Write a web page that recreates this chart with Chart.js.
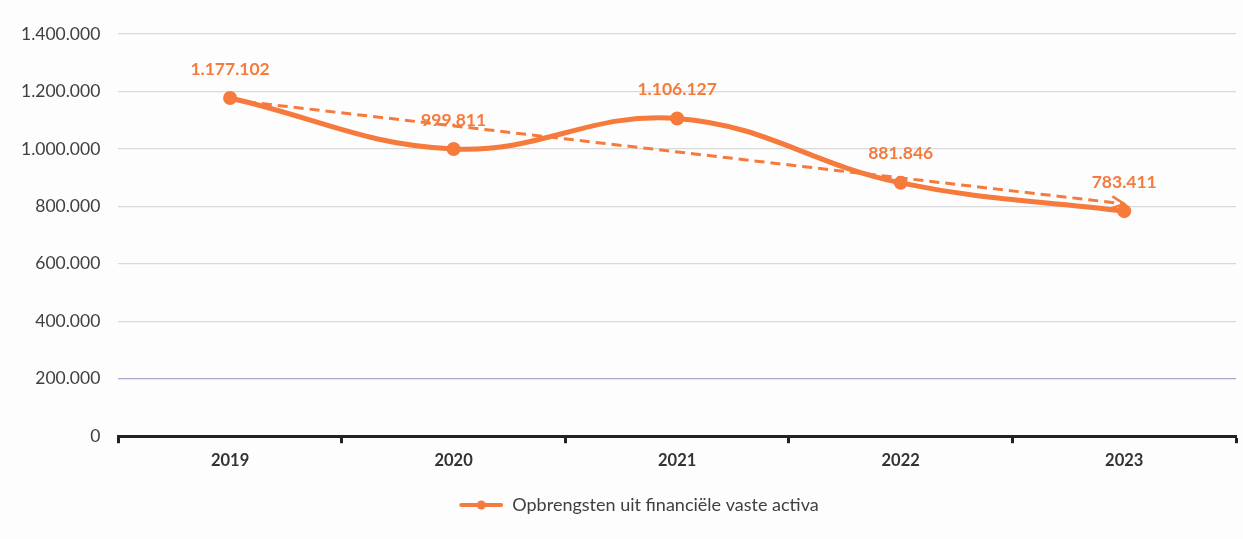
<!DOCTYPE html>
<html>
<head>
<meta charset="utf-8">
<script src="https://cdn.jsdelivr.net/npm/chart.js@4/dist/chart.umd.min.js"></script>
<style>
  html, body { margin: 0; padding: 0; background: #fdfdfd; }
  #wrap { width: 1243px; height: 539px; }
</style>
</head>
<body>
<div id="wrap"><canvas id="myChart"></canvas></div>
<script>
const years = ['2019', '2020', '2021', '2022', '2023'];
const opbrengsten = [1177102, 999811, 1106127, 881846, 783411];
// dashed trend line, start and end
const trend = [1170700, null, null, null, 808600];
const yTicks = [0, 200000, 400000, 600000, 800000, 1000000, 1200000, 1400000];

const orange = '#f57a3c';
const fontName = 'Lato, "Liberation Sans", sans-serif';

function nlNumber(v) {
    return String(Math.round(v)).replace(/\B(?=(\d{3})+(?!\d))/g, '.');
}

// legend marker: line with a dot in the middle (left part left empty so the item sits a bit right)
const marker = document.createElement('canvas');
marker.width = 80;
marker.height = 12;
(function () {
    const c = marker.getContext('2d');
    c.strokeStyle = orange;
    c.lineWidth = 4;
    c.lineCap = 'round';
    c.beginPath();
    c.moveTo(38, 6);
    c.lineTo(78, 6);
    c.stroke();
    c.fillStyle = orange;
    c.beginPath();
    c.arc(58, 6, 4.5, 0, Math.PI * 2);
    c.fill();
})();

const background = {
    id: 'background',
    beforeDraw(chart) {
        const c = chart.ctx;
        c.save();
        c.fillStyle = '#fdfdfd';
        c.fillRect(0, 0, chart.width, chart.height);
        c.restore();
    }
};

const valueLabels = {
    id: 'valueLabels',
    afterDatasetsDraw(chart) {
        const c = chart.ctx;
        const meta = chart.getDatasetMeta(0);
        c.save();
        c.font = 'bold 17.5px ' + fontName;
        c.fillStyle = orange;
        c.textAlign = 'center';
        c.textBaseline = 'middle';
        meta.data.forEach((pt, i) => {
            c.fillText(nlNumber(opbrengsten[i]), pt.x, pt.y - 29);
        });
        c.restore();
    }
};

const trendArrow = {
    id: 'trendArrow',
    afterDatasetsDraw(chart) {
        const meta = chart.getDatasetMeta(1);
        const pts = meta.data.filter((p, i) => trend[i] !== null);
        if (pts.length < 2) return;
        const a = pts[pts.length - 2], b = pts[pts.length - 1];
        const ang = Math.atan2(b.y - a.y, b.x - a.x);
        const len = 14;
        const c = chart.ctx;
        c.save();
        c.strokeStyle = orange;
        c.lineWidth = 2.5;
        c.beginPath();
        c.moveTo(b.x - len * Math.cos(ang - 0.45), b.y - len * Math.sin(ang - 0.45));
        c.lineTo(b.x, b.y);
        c.lineTo(b.x - len * Math.cos(ang + 0.45), b.y - len * Math.sin(ang + 0.45));
        c.stroke();
        c.restore();
    }
};

new Chart(document.getElementById('myChart'), {
    type: 'line',
    data: {
        labels: years,
        datasets: [{
            label: 'Opbrengsten uit financiële vaste activa',
            data: opbrengsten,
            borderColor: orange,
            backgroundColor: orange,
            borderWidth: 5,
            tension: 0.4,
            pointRadius: 7,
            pointHoverRadius: 7,
            pointBackgroundColor: orange,
            pointBorderWidth: 0,
            order: 2
        }, {
            label: 'trend',
            data: trend,
            borderColor: orange,
            borderWidth: 3,
            borderDash: [10, 6],
            pointRadius: 0,
            spanGaps: true,
            tension: 0,
            order: 1
        }]
    },
    options: {
        responsive: true,
        maintainAspectRatio: false,
        animation: false,
        layout: { padding: { top: 34, right: 4, left: 3, bottom: 15 } },
        plugins: {
            tooltip: { enabled: false },
            legend: {
                position: 'bottom',
                labels: {
                    filter: (item) => item.datasetIndex === 0,
                    usePointStyle: true,
                    pointStyle: marker,
                    pointStyleWidth: 80,
                    boxHeight: 12,
                    padding: 17,
                    color: '#404040',
                    font: { family: fontName, size: 18 }
                }
            }
        },
        scales: {
            x: {
                offset: true,
                grid: {
                    offset: true,
                    drawOnChartArea: false,
                    drawTicks: true,
                    tickLength: 7,
                    tickWidth: 3,
                    tickColor: '#222'
                },
                border: { display: true, color: '#222', width: 3 },
                ticks: {
                    color: '#333',
                    padding: 8,
                    font: { family: fontName, size: 16.5, weight: 'bold' }
                }
            },
            y: {
                min: 0,
                max: 1400000,
                afterBuildTicks: (axis) => { axis.ticks = yTicks.map(v => ({ value: v })); },
                grid: {
                    drawTicks: false,
                    color: (ctx) => ctx.tick && ctx.tick.value === 200000 ? '#a8a8cc' : '#d9d9d9',
                    lineWidth: 1.2
                },
                border: { display: false },
                ticks: {
                    padding: 18,
                    color: '#404040',
                    font: { family: fontName, size: 17.5 },
                    callback: (v) => nlNumber(v)
                }
            }
        }
    },
    plugins: [background, valueLabels, trendArrow]
});
</script>
</body>
</html>
